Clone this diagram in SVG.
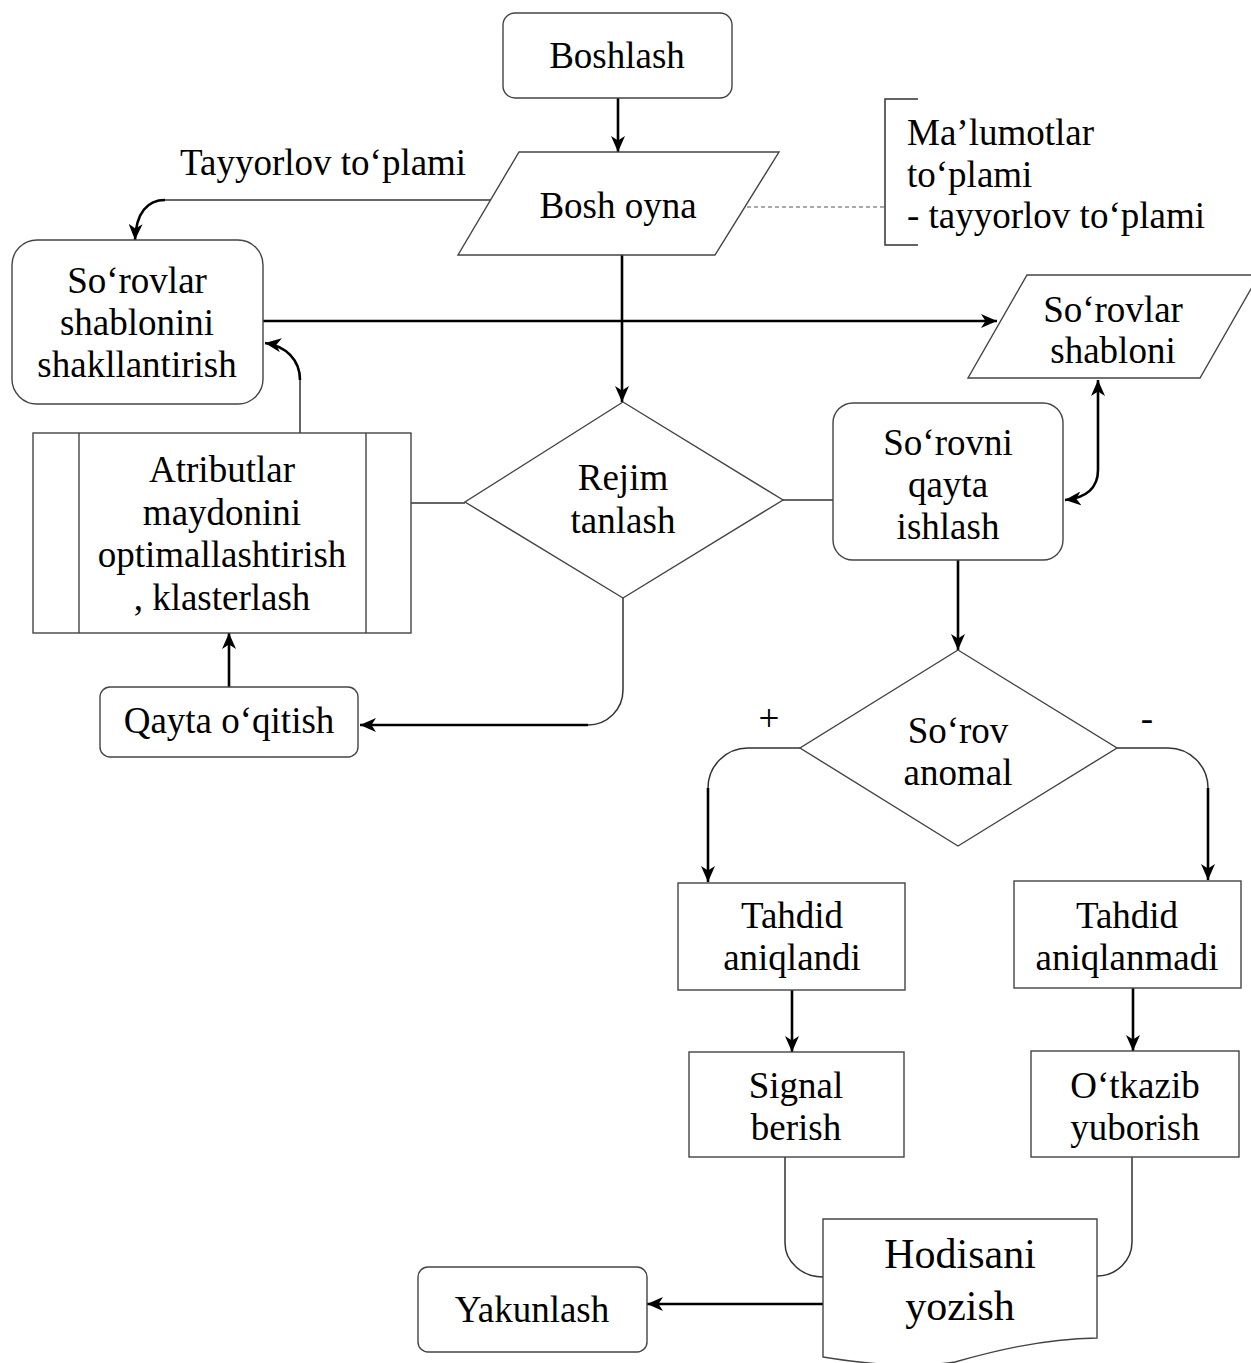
<svg xmlns="http://www.w3.org/2000/svg" width="1251" height="1363" viewBox="0 0 1251 1363">
  <defs>
    <marker id="arrow" markerUnits="userSpaceOnUse" viewBox="0 0 16 14" markerWidth="16" markerHeight="14" refX="16" refY="7" orient="auto-start-reverse">
      <path d="M0,0 L16,7 L0,14 L4.5,7 Z" fill="#000"/>
    </marker>
  </defs>
  <style>
    .shape { fill: #fff; stroke: #444; stroke-width: 1.4; }
    .label { font-family: "Liberation Serif", "Times New Roman", serif; font-size: 37px; fill: #000; }
    .mid { text-anchor: middle; }
    .big { font-size: 42px; }
    .thin { fill: none; stroke: #333; stroke-width: 1.5; }
    .thick { fill: none; stroke: #000; stroke-width: 2.6; }
    .arr { marker-end: url(#arrow); }
    .dash { fill: none; stroke: #555; stroke-width: 1.2; stroke-dasharray: 4 3; }
  </style>
  <rect width="1251" height="1363" fill="#fff"/>

  <!-- connectors -->
  <g id="connectors">
    <path class="thick arr" d="M618,97 V152"/>
    <path class="thick arr" d="M622,255 V402"/>
    <path class="thin" d="M490,200 H165"/>
    <path class="thick arr" d="M165,200 C148,200 136,212 135,240"/>
    <path class="dash" d="M747,207 H885"/>
    <path class="thick arr" d="M263,321 H997"/>
    <path class="thin" d="M300,433 V380"/>
    <path class="thick arr" d="M300,380 C300,360 286,346 265,343"/>
    <path class="thick" d="M1098,380 V470 C1098,488 1086,498 1065,500" marker-start="url(#arrow)" marker-end="url(#arrow)"/>
    <path class="thin" d="M465,503 H411"/>
    <path class="thin" d="M783,500 H833"/>
    <path class="thin" d="M623,598 V690 A35,35 0 0 1 588,725"/>
    <path class="thick arr" d="M588,725 H360"/>
    <path class="thick arr" d="M229,687 V633"/>
    <path class="thick arr" d="M958,560 V650"/>
    <path class="thin" d="M800,748 H748 A40,40 0 0 0 708,788"/>
    <path class="thick arr" d="M708,788 V882"/>
    <path class="thin" d="M1117,748 H1168 A40,40 0 0 1 1208,788"/>
    <path class="thick arr" d="M1208,788 V880"/>
    <path class="thick arr" d="M792,990 V1052"/>
    <path class="thick arr" d="M1133,988 V1051"/>
    <path class="thin" d="M785,1157 V1243 A38,34 0 0 0 823,1277"/>
    <path class="thin" d="M1132,1157 V1242 A35,34 0 0 1 1097,1276"/>
    <path class="thick arr" d="M823,1304 H647"/>
  </g>

  <g id="boshlash">
    <rect class="shape" x="503" y="13" width="229" height="85" rx="12"/>
    <text class="label mid" x="617" y="68">Boshlash</text>
  </g>

  <g id="bosh-oyna">
    <polygon class="shape" points="519,152 779,152 715,255 458,255"/>
    <text class="label mid" x="618" y="218">Bosh oyna</text>
  </g>

  <g id="tayyorlov-label">
    <text class="label" x="180" y="175">Tayyorlov to‘plami</text>
  </g>

  <g id="malumotlar-note">
    <path class="thin" stroke="#555" d="M918,99 H885 V245 H918"/>
    <text class="label" x="907" y="145">Ma’lumotlar</text>
    <text class="label" x="907" y="187">to‘plami</text>
    <text class="label" x="907" y="228">- tayyorlov to‘plami</text>
  </g>

  <g id="sorovlar-shablonini">
    <rect class="shape" x="12" y="240" width="251" height="164" rx="25"/>
    <text class="label mid" x="137" y="293">So‘rovlar</text>
    <text class="label mid" x="137" y="335">shablonini</text>
    <text class="label mid" x="137" y="377">shakllantirish</text>
  </g>

  <g id="sorovlar-shabloni">
    <polygon class="shape" points="1027,275 1259,275 1200,378 968,378"/>
    <text class="label mid" x="1113" y="322">So‘rovlar</text>
    <text class="label mid" x="1113" y="363">shabloni</text>
  </g>

  <g id="atributlar">
    <rect class="shape" x="33" y="433" width="378" height="200"/>
    <line class="shape" x1="79" y1="433" x2="79" y2="633"/>
    <line class="shape" x1="366" y1="433" x2="366" y2="633"/>
    <text class="label mid" x="222" y="482">Atributlar</text>
    <text class="label mid" x="222" y="525">maydonini</text>
    <text class="label mid" x="222" y="567">optimallashtirish</text>
    <text class="label mid" x="222" y="610">, klasterlash</text>
  </g>

  <g id="rejim-tanlash">
    <polygon class="shape" points="623,402 783,500 623,598 465,502"/>
    <text class="label mid" x="623" y="490">Rejim</text>
    <text class="label mid" x="623" y="533">tanlash</text>
  </g>

  <g id="sorovni-qayta-ishlash">
    <rect class="shape" x="833" y="403" width="230" height="157" rx="20"/>
    <text class="label mid" x="948" y="455">So‘rovni</text>
    <text class="label mid" x="948" y="497">qayta</text>
    <text class="label mid" x="948" y="539">ishlash</text>
  </g>

  <g id="qayta-oqitish">
    <rect class="shape" x="100" y="687" width="258" height="70" rx="10"/>
    <text class="label mid" x="229" y="733">Qayta o‘qitish</text>
  </g>

  <g id="sorov-anomal">
    <polygon class="shape" points="958,650 1117,748 958,846 800,748"/>
    <text class="label mid" x="958" y="743">So‘rov</text>
    <text class="label mid" x="958" y="785">anomal</text>
    <text class="label mid" x="769" y="731">+</text>
    <text class="label mid" x="1147" y="731">-</text>
  </g>

  <g id="tahdid-aniqlandi">
    <rect class="shape" x="678" y="883" width="227" height="107"/>
    <text class="label mid" x="792" y="928">Tahdid</text>
    <text class="label mid" x="792" y="970">aniqlandi</text>
  </g>

  <g id="tahdid-aniqlanmadi">
    <rect class="shape" x="1014" y="881" width="227" height="107"/>
    <text class="label mid" x="1127" y="928">Tahdid</text>
    <text class="label mid" x="1127" y="970">aniqlanmadi</text>
  </g>

  <g id="signal-berish">
    <rect class="shape" x="689" y="1052" width="215" height="105"/>
    <text class="label mid" x="796" y="1098">Signal</text>
    <text class="label mid" x="796" y="1140">berish</text>
  </g>

  <g id="otkazib-yuborish">
    <rect class="shape" x="1031" y="1051" width="208" height="106"/>
    <text class="label mid" x="1135" y="1098">O‘tkazib</text>
    <text class="label mid" x="1135" y="1140">yuborish</text>
  </g>

  <g id="hodisani-yozish">
    <path class="shape" d="M823,1219 H1097 V1338 C1040,1339 990,1352 955,1362 C915,1368 865,1364 823,1357 Z"/>
    <text class="label mid big" x="960" y="1268">Hodisani</text>
    <text class="label mid big" x="960" y="1320">yozish</text>
  </g>

  <g id="yakunlash">
    <rect class="shape" x="418" y="1267" width="229" height="85" rx="10"/>
    <text class="label mid" x="532" y="1322">Yakunlash</text>
  </g>
</svg>
